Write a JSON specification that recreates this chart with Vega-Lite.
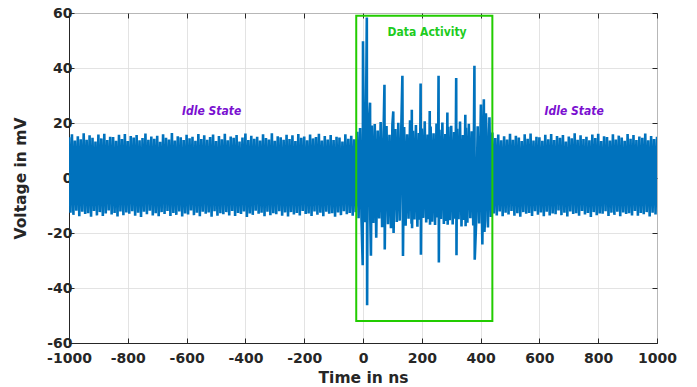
{
  "$schema": "https://vega.github.io/schema/vega-lite/v6.json",
  "autosize": "none",
  "width": 588,
  "height": 330,
  "padding": {"left": 69, "top": 13, "right": 40, "bottom": 44},
  "background": "white",
  "config": {
    "view": {"stroke": "#262626", "strokeWidth": 1},
    "axis": {
      "labelFont": "DejaVu Sans", "labelFontWeight": "bold", "labelFontSize": 14, "labelColor": "#262626",
      "titleFont": "DejaVu Sans", "titleFontWeight": "bold", "titleFontSize": 15.5, "titleColor": "#262626",
      "domainColor": "#262626", "tickColor": "#262626", "gridColor": "#dcdcdc", "gridOpacity": 0.8,
      "labelOverlap": false, "labelBound": false, "labelFlush": false
    }
  },
  "datasets": {
    "signal": [
{"t":-1000,"v":14.8},{"t":-995,"v":-12.6},{"t":-990,"v":15.9},{"t":-985,"v":-13.4},{"t":-980,"v":13.6},{"t":-975,"v":-11.9},{"t":-970,"v":15.2},{"t":-965,"v":-13.9},{"t":-960,"v":14.1},{"t":-955,"v":-12.3},
{"t":-950,"v":16.3},{"t":-945,"v":-13.1},{"t":-940,"v":13.9},{"t":-935,"v":-12.8},{"t":-930,"v":15.5},{"t":-925,"v":-14.1},{"t":-920,"v":14.6},{"t":-915,"v":-12.0},{"t":-910,"v":13.3},{"t":-905,"v":-13.6},
{"t":-900,"v":15.8},{"t":-895,"v":-12.4},{"t":-890,"v":14.4},{"t":-885,"v":-13.8},{"t":-880,"v":16.1},{"t":-875,"v":-12.9},{"t":-870,"v":13.8},{"t":-865,"v":-11.8},{"t":-860,"v":15.0},{"t":-855,"v":-13.3},
{"t":-850,"v":14.9},{"t":-845,"v":-12.7},{"t":-840,"v":13.5},{"t":-835,"v":-14.0},{"t":-830,"v":15.7},{"t":-825,"v":-12.2},{"t":-820,"v":14.2},{"t":-815,"v":-13.5},{"t":-810,"v":16.0},{"t":-805,"v":-12.5},
{"t":-800,"v":13.4},{"t":-795,"v":-13.0},{"t":-790,"v":15.3},{"t":-785,"v":-12.1},{"t":-780,"v":14.7},{"t":-775,"v":-13.7},{"t":-770,"v":15.6},{"t":-765,"v":-12.6},{"t":-760,"v":13.7},{"t":-755,"v":-14.2},
{"t":-750,"v":14.5},{"t":-745,"v":-12.3},{"t":-740,"v":16.2},{"t":-735,"v":-13.2},{"t":-730,"v":13.9},{"t":-725,"v":-11.9},{"t":-720,"v":15.1},{"t":-715,"v":-13.6},{"t":-710,"v":14.3},{"t":-705,"v":-12.8},
{"t":-700,"v":15.4},{"t":-695,"v":-13.9},{"t":-690,"v":13.2},{"t":-685,"v":-12.4},{"t":-680,"v":15.9},{"t":-675,"v":-13.1},{"t":-670,"v":14.6},{"t":-665,"v":-12.0},{"t":-660,"v":14.0},{"t":-655,"v":-13.8},
{"t":-650,"v":16.4},{"t":-645,"v":-12.7},{"t":-640,"v":13.6},{"t":-635,"v":-13.4},{"t":-630,"v":15.2},{"t":-625,"v":-12.2},{"t":-620,"v":14.8},{"t":-615,"v":-14.0},{"t":-610,"v":13.8},{"t":-605,"v":-12.9},
{"t":-600,"v":15.7},{"t":-595,"v":-13.3},{"t":-590,"v":14.4},{"t":-585,"v":-11.8},{"t":-580,"v":15.0},{"t":-575,"v":-13.5},{"t":-570,"v":13.5},{"t":-565,"v":-12.6},{"t":-560,"v":16.0},{"t":-555,"v":-13.9},
{"t":-550,"v":14.2},{"t":-545,"v":-12.3},{"t":-540,"v":15.5},{"t":-535,"v":-13.0},{"t":-530,"v":13.9},{"t":-525,"v":-12.5},{"t":-520,"v":14.9},{"t":-515,"v":-14.1},{"t":-510,"v":15.8},{"t":-505,"v":-12.1},
{"t":-500,"v":13.4},{"t":-495,"v":-13.7},{"t":-490,"v":15.3},{"t":-485,"v":-12.8},{"t":-480,"v":14.1},{"t":-475,"v":-13.2},{"t":-470,"v":16.1},{"t":-465,"v":-12.4},{"t":-460,"v":13.7},{"t":-455,"v":-13.6},
{"t":-450,"v":15.1},{"t":-445,"v":-12.0},{"t":-440,"v":14.6},{"t":-435,"v":-13.8},{"t":-430,"v":15.6},{"t":-425,"v":-12.7},{"t":-420,"v":13.3},{"t":-415,"v":-13.1},{"t":-410,"v":14.7},{"t":-405,"v":-12.2},
{"t":-400,"v":16.2},{"t":-395,"v":-14.2},{"t":-390,"v":13.8},{"t":-385,"v":-12.9},{"t":-380,"v":15.4},{"t":-375,"v":-13.4},{"t":-370,"v":14.3},{"t":-365,"v":-11.9},{"t":-360,"v":15.0},{"t":-355,"v":-13.0},
{"t":-350,"v":13.6},{"t":-345,"v":-12.6},{"t":-340,"v":15.9},{"t":-335,"v":-13.9},{"t":-330,"v":14.5},{"t":-325,"v":-12.3},{"t":-320,"v":14.0},{"t":-315,"v":-13.5},{"t":-310,"v":16.3},{"t":-305,"v":-12.8},
{"t":-300,"v":13.5},{"t":-295,"v":-13.2},{"t":-290,"v":15.2},{"t":-285,"v":-12.1},{"t":-280,"v":14.8},{"t":-275,"v":-13.7},{"t":-270,"v":13.9},{"t":-265,"v":-12.5},{"t":-260,"v":15.7},{"t":-255,"v":-14.0},
{"t":-250,"v":14.2},{"t":-245,"v":-12.4},{"t":-240,"v":15.5},{"t":-235,"v":-13.3},{"t":-230,"v":13.4},{"t":-225,"v":-12.7},{"t":-220,"v":16.0},{"t":-215,"v":-13.6},{"t":-210,"v":14.6},{"t":-205,"v":-12.0},
{"t":-200,"v":15.1},{"t":-195,"v":-13.1},{"t":-190,"v":13.7},{"t":-185,"v":-12.9},{"t":-180,"v":15.8},{"t":-175,"v":-13.8},{"t":-170,"v":14.4},{"t":-165,"v":-12.2},{"t":-160,"v":14.9},{"t":-155,"v":-13.4},
{"t":-150,"v":16.1},{"t":-145,"v":-12.6},{"t":-140,"v":13.6},{"t":-135,"v":-13.9},{"t":-130,"v":15.3},{"t":-125,"v":-12.3},{"t":-120,"v":14.0},{"t":-115,"v":-13.0},{"t":-110,"v":15.6},{"t":-105,"v":-12.8},
{"t":-100,"v":13.8},{"t":-95,"v":-14.1},{"t":-90,"v":15.0},{"t":-85,"v":-12.5},{"t":-80,"v":14.7},{"t":-75,"v":-13.5},{"t":-70,"v":13.3},{"t":-65,"v":-12.1},{"t":-60,"v":15.9},{"t":-55,"v":-13.2},
{"t":-50,"v":14.3},{"t":-45,"v":-12.7},{"t":-40,"v":15.4},{"t":-35,"v":-13.7},{"t":-30,"v":14.1},{"t":-25,"v":-12.4},
{"t":-20,"v":16.8},{"t":-15,"v":-14.6},{"t":-10,"v":18.2},{"t":-5,"v":-15.3},{"t":-1,"v":-31.7},{"t":0,"v":49.7},{"t":5,"v":-16.1},{"t":10,"v":19.6},{"t":13,"v":58.4},{"t":14,"v":-46.3},
{"t":15,"v":-17.2},{"t":20,"v":18.4},{"t":24,"v":27.4},{"t":25,"v":-15.8},{"t":27,"v":-28.3},{"t":30,"v":19.1},{"t":35,"v":-16.4},{"t":40,"v":19.6},{"t":45,"v":-21.7},{"t":50,"v":17.3},
{"t":55,"v":-14.7},{"t":60,"v":20.4},{"t":65,"v":-17.9},{"t":70,"v":16.5},{"t":73,"v":33.9},{"t":74,"v":-26.0},{"t":75,"v":-15.2},{"t":80,"v":18.9},{"t":85,"v":-16.8},{"t":90,"v":15.7},
{"t":95,"v":-18.3},{"t":100,"v":19.4},{"t":103,"v":24.2},{"t":104,"v":-20.0},{"t":105,"v":-14.3},{"t":110,"v":17.8},{"t":115,"v":-16.0},{"t":120,"v":20.1},{"t":125,"v":-15.5},{"t":130,"v":16.9},
{"t":134,"v":37.2},{"t":136,"v":-28.4},{"t":140,"v":18.5},{"t":145,"v":-17.4},{"t":150,"v":15.9},{"t":155,"v":-14.8},{"t":160,"v":21.0},{"t":165,"v":-16.6},{"t":166,"v":24.8},{"t":167,"v":-18.3},
{"t":170,"v":17.2},{"t":175,"v":-15.1},{"t":180,"v":19.3},{"t":185,"v":-17.7},{"t":190,"v":16.4},{"t":193,"v":-15.2},{"t":196,"v":34.4},{"t":197,"v":-27.9},{"t":200,"v":18.0},{"t":205,"v":-14.5},
{"t":210,"v":20.6},{"t":215,"v":-16.2},{"t":220,"v":15.8},{"t":224,"v":-15.0},{"t":227,"v":24.4},{"t":228,"v":-17.0},{"t":230,"v":18.7},{"t":235,"v":-15.9},{"t":240,"v":16.3},{"t":245,"v":-17.1},
{"t":250,"v":19.8},{"t":254,"v":-14.4},{"t":257,"v":37.2},{"t":258,"v":-30.7},{"t":260,"v":17.5},{"t":265,"v":-14.9},{"t":270,"v":20.2},{"t":275,"v":-16.7},{"t":280,"v":16.0},{"t":284,"v":-15.6},
{"t":287,"v":23.8},{"t":288,"v":-17.0},{"t":290,"v":18.6},{"t":295,"v":-15.4},{"t":300,"v":19.0},{"t":305,"v":-16.9},{"t":310,"v":16.7},{"t":314,"v":-14.8},{"t":317,"v":36.4},{"t":318,"v":-28.1},
{"t":320,"v":17.9},{"t":325,"v":-15.0},{"t":330,"v":20.5},{"t":335,"v":-17.6},{"t":340,"v":15.6},{"t":344,"v":-15.3},{"t":348,"v":23.0},{"t":349,"v":-17.5},{"t":350,"v":18.3},{"t":355,"v":-16.3},
{"t":360,"v":19.7},{"t":365,"v":-14.6},{"t":370,"v":17.0},{"t":375,"v":-17.3},{"t":379,"v":40.8},{"t":380,"v":-29.7},{"t":385,"v":-15.7},{"t":390,"v":18.8},{"t":395,"v":-16.5},{"t":400,"v":19.2},
{"t":401,"v":26.7},{"t":405,"v":-17.8},{"t":406,"v":-24.2},{"t":410,"v":20.3},{"t":411,"v":28.6},{"t":413,"v":-19.6},{"t":415,"v":-15.4},{"t":418,"v":23.5},{"t":420,"v":17.4},{"t":425,"v":-18.0},
{"t":430,"v":22.1},{"t":435,"v":-14.2},{"t":440,"v":16.5},
{"t":445,"v":-12.9},{"t":450,"v":14.5},{"t":455,"v":-13.6},{"t":460,"v":15.8},{"t":465,"v":-12.2},{"t":470,"v":13.7},{"t":475,"v":-13.9},{"t":480,"v":15.2},{"t":485,"v":-12.6},{"t":490,"v":14.0},
{"t":495,"v":-13.3},{"t":500,"v":16.1},{"t":505,"v":-12.0},{"t":510,"v":13.9},{"t":515,"v":-13.7},{"t":520,"v":15.4},{"t":525,"v":-12.8},{"t":530,"v":14.7},{"t":535,"v":-14.1},{"t":540,"v":13.4},
{"t":545,"v":-12.4},{"t":550,"v":15.9},{"t":555,"v":-13.0},{"t":560,"v":14.3},{"t":565,"v":-12.7},{"t":570,"v":16.2},{"t":575,"v":-13.8},{"t":580,"v":13.6},{"t":585,"v":-12.1},{"t":590,"v":15.0},
{"t":595,"v":-13.4},{"t":600,"v":14.8},{"t":605,"v":-12.5},{"t":610,"v":13.5},{"t":615,"v":-13.9},{"t":620,"v":15.7},{"t":625,"v":-12.3},{"t":630,"v":14.1},{"t":635,"v":-13.6},{"t":640,"v":16.0},
{"t":645,"v":-12.9},{"t":650,"v":13.8},{"t":655,"v":-13.2},{"t":660,"v":15.3},{"t":665,"v":-11.8},{"t":670,"v":14.6},{"t":675,"v":-13.5},{"t":680,"v":15.6},{"t":685,"v":-12.6},{"t":690,"v":13.3},
{"t":695,"v":-14.0},{"t":700,"v":15.1},{"t":705,"v":-12.2},{"t":710,"v":14.4},{"t":715,"v":-13.1},{"t":720,"v":16.3},{"t":725,"v":-12.8},{"t":730,"v":13.9},{"t":735,"v":-13.7},{"t":740,"v":15.5},
{"t":745,"v":-12.0},{"t":750,"v":14.2},{"t":755,"v":-13.3},{"t":760,"v":15.0},{"t":765,"v":-12.7},{"t":770,"v":13.7},{"t":775,"v":-14.2},{"t":780,"v":15.8},{"t":785,"v":-12.4},{"t":790,"v":14.5},
{"t":795,"v":-13.5},{"t":800,"v":16.1},{"t":805,"v":-12.9},{"t":810,"v":13.4},{"t":815,"v":-13.0},{"t":820,"v":15.2},{"t":825,"v":-12.1},{"t":830,"v":14.9},{"t":835,"v":-13.8},{"t":840,"v":13.6},
{"t":845,"v":-12.6},{"t":850,"v":15.9},{"t":855,"v":-13.4},{"t":860,"v":14.0},{"t":865,"v":-12.3},{"t":870,"v":15.4},{"t":875,"v":-13.9},{"t":880,"v":14.7},{"t":885,"v":-12.5},{"t":890,"v":13.5},
{"t":895,"v":-13.1},{"t":900,"v":16.0},{"t":905,"v":-12.8},{"t":910,"v":14.3},{"t":915,"v":-13.6},{"t":920,"v":15.6},{"t":925,"v":-12.0},{"t":930,"v":13.8},{"t":935,"v":-13.7},{"t":940,"v":15.1},
{"t":945,"v":-12.7},{"t":950,"v":14.6},{"t":955,"v":-13.2},{"t":960,"v":16.2},{"t":965,"v":-12.4},{"t":970,"v":13.7},{"t":975,"v":-14.0},{"t":980,"v":15.3},{"t":985,"v":-12.6},{"t":990,"v":14.2},
{"t":995,"v":-13.3},{"t":1000,"v":15.0}
    ],
    "box": [{"t1": -23, "t2": 440, "v1": -52, "v2": 59}],
    "idle": [{"t": -515, "v": 24.4, "label": "Idle State"}, {"t": 718, "v": 24.4, "label": "Idle State"}],
    "activity": [{"t": 218, "v": 53.2, "label": "Data Activity"}]
  },
  "layer": [
    {
      "data": {"name": "signal"},
      "mark": {"type": "line", "color": "#0072BD", "strokeWidth": 2.6, "strokeJoin": "bevel", "clip": true},
      "encoding": {
        "x": {"field": "t", "type": "quantitative", "scale": {"domain": [-1000, 1000], "nice": false, "zero": false},
              "axis": {"values": [-1000, -800, -600, -400, -200, 0, 200, 400, 600, 800, 1000], "labelExpr": "'' + datum.value", "title": "Time in ns", "tickSize": -5, "labelPadding": 13, "titlePadding": 5, "grid": true}},
        "y": {"field": "v", "type": "quantitative", "scale": {"domain": [-60, 60], "nice": false, "zero": false},
              "axis": {"values": [-60, -40, -20, 0, 20, 40, 60], "labelExpr": "'' + datum.value", "title": "Voltage in mV", "tickSize": -5, "labelPadding": 2, "titlePadding": 18, "grid": true}}
      }
    },
    {
      "data": {"name": "box"},
      "mark": {"type": "rect", "fill": null, "fillOpacity": 0, "stroke": "#22CC00", "strokeWidth": 2},
      "encoding": {
        "x": {"field": "t1", "type": "quantitative", "axis": {"orient": "top", "labels": false, "domain": false, "grid": false, "tickSize": -5, "title": null, "values": [-1000, -800, -600, -400, -200, 0, 200, 400, 600, 800, 1000]}},
        "x2": {"field": "t2"},
        "y": {"field": "v1", "type": "quantitative", "axis": {"orient": "right", "labels": false, "domain": false, "grid": false, "tickSize": -5, "title": null, "values": [-60, -40, -20, 0, 20, 40, 60]}},
        "y2": {"field": "v2"}
      }
    },
    {
      "data": {"name": "idle"},
      "mark": {"type": "text", "font": "DejaVu Sans Condensed", "fontWeight": "bold", "fontStyle": "italic", "fontSize": 12, "color": "#7A10D0", "align": "center", "baseline": "middle"},
      "encoding": {
        "x": {"field": "t", "type": "quantitative", "axis": null},
        "y": {"field": "v", "type": "quantitative", "axis": null},
        "text": {"field": "label"}
      }
    },
    {
      "data": {"name": "activity"},
      "mark": {"type": "text", "font": "DejaVu Sans Condensed", "fontWeight": "bold", "fontSize": 12, "color": "#1ECC1E", "align": "center", "baseline": "middle"},
      "encoding": {
        "x": {"field": "t", "type": "quantitative", "axis": null},
        "y": {"field": "v", "type": "quantitative", "axis": null},
        "text": {"field": "label"}
      }
    }
  ],
  "resolve": {"axis": {"x": "independent", "y": "independent"}}
}
